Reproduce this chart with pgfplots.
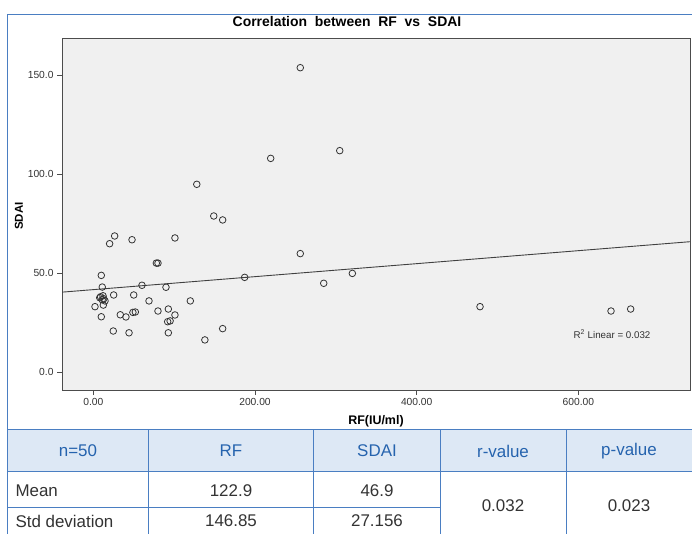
\documentclass[border=0pt]{standalone}
\usepackage{pgfplots}
\pgfplotsset{compat=1.18}
\usepackage{fontspec}
\setmainfont{Liberation Sans}
\definecolor{frameblue}{HTML}{4A7EC2}
\definecolor{headfill}{HTML}{DDE8F5}
\definecolor{headtext}{HTML}{2563AE}
\definecolor{plotbg}{HTML}{F0F0F0}
\definecolor{txt}{HTML}{333333}
\begin{document}
\begin{tikzpicture}
\useasboundingbox (0bp,0bp) rectangle (692bp,-534bp);
\begin{axis}[
  at={(62bp,-390bp)}, anchor=south west,
  scale only axis, width=628bp, height=352bp,
  xmin=-38.7, xmax=738, ymin=-9.1, ymax=168.7,
  axis background/.style={fill=plotbg},
  axis line style={draw=black!70, line width=0.8pt},
  xtick={0,200,400,600}, xticklabels={0.00,200.00,400.00,600.00},
  ytick={0,50,100,150}, yticklabels={0.0,50.0,100.0,150.0},
  tick align=outside, major tick length=5bp,
  tick style={black!70, line width=0.8pt},
  xtick pos=bottom, ytick pos=left,
  ticklabel style={font=\fontsize{10.3}{12}\selectfont, text=txt},
]
\addplot[black!75, line width=0.9pt] coordinates {(-38.7,40.33) (738,65.81)};
\addplot[only marks, mark=o, mark size=3.3bp, mark options={draw=black!80, line width=0.8pt}] table {
x y
256 153.7
304.8 111.8
219.4 107.9
128 94.8
149 78.8
160 76.8
26.4 68.7
20.2 64.8
47.9 66.8
101 67.7
256 59.8
78 55
80 55
9.9 48.8
11.1 42.9
60.2 43.8
89.9 42.8
187.2 47.8
320.4 49.8
285 44.8
9 38
12 38.5
25.2 38.9
50 38.9
14.5 35.9
2.1 33
12.4 33.8
68.9 35.9
120 35.9
9.9 27.9
33.4 28.9
40.4 27.8
49 30.1
52 30.3
80 30.8
92.8 31.8
101 28.8
92 25.4
95 25.8
24.7 20.7
44.2 19.8
92.8 19.8
138 16.2
160 21.9
478.3 33
640.3 30.8
664.6 31.8
8 37.5
13 37
11 36.5
};
\end{axis}
% chart texts
\node[font=\bfseries\fontsize{14}{16}\selectfont] at (347bp,-22bp) {Correlation\ \ between\ \ RF\ \ vs\ \ SDAI};
\node[font=\bfseries\fontsize{12.5}{14}\selectfont] at (376bp,-421bp) {RF(IU/ml)};
\node[rotate=90, font=\bfseries\fontsize{11.5}{13}\selectfont] at (19bp,-216bp) {SDAI};
\node[font=\fontsize{9.8}{11}\selectfont, text=txt] at (612bp,-334bp) {R\textsuperscript{2} Linear = 0.032};
% frame
\draw[frameblue, line width=1pt] (7bp,-534bp) -- (7bp,-14bp) -- (692bp,-14bp);
% table
\fill[headfill] (7.5bp,-430bp) rectangle (692bp,-471bp);
\draw[frameblue, line width=0.9pt] (7bp,-429.5bp) -- (692bp,-429.5bp);
\draw[frameblue, line width=0.8pt] (7bp,-471bp) -- (692bp,-471bp);
\draw[frameblue, line width=0.8pt] (7bp,-507bp) -- (440.5bp,-507bp);
\foreach \xx in {148.6,313.6,440.5,566.4} {
  \draw[frameblue, line width=0.8pt] (\xx bp,-429.5bp) -- (\xx bp,-534bp);
}
\begin{scope}[every node/.style={font=\fontsize{17}{20}\selectfont, text=headtext}]
\node at (78bp,-451bp) {n=50};
\node at (231bp,-451bp) {RF};
\node at (377bp,-451bp) {SDAI};
\node at (503bp,-451bp) {r-value};
\node at (629bp,-451bp) {p-value};
\end{scope}
\begin{scope}[every node/.style={font=\fontsize{17}{20}\selectfont, text=txt}]
\node[anchor=west] at (12bp,-491bp) {Mean};
\node at (231bp,-491bp) {122.9};
\node at (377bp,-491bp) {46.9};
\node[anchor=west] at (12bp,-521bp) {Std deviation};
\node at (231bp,-521bp) {146.85};
\node at (377bp,-521bp) {27.156};
\node at (503bp,-506bp) {0.032};
\node at (629bp,-506bp) {0.023};
\end{scope}
\end{tikzpicture}
\end{document}
